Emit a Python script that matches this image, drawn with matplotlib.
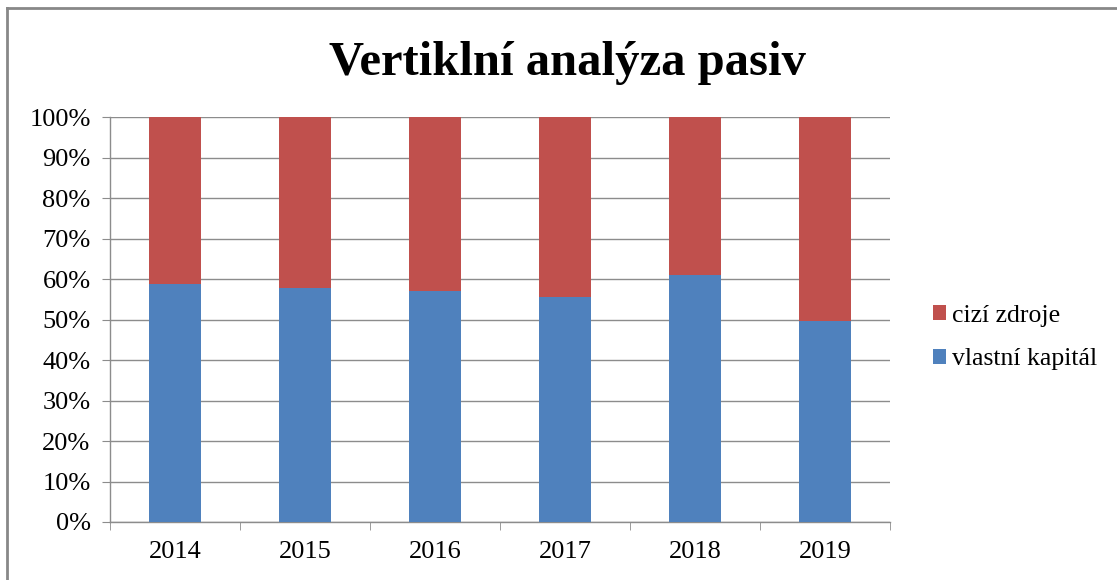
import matplotlib.pyplot as plt
from matplotlib.lines import Line2D

years = ['2014', '2015', '2016', '2017', '2018', '2019']
vlastni_kapital = [58.8, 57.8, 57.1, 55.6, 60.9, 49.6]
cizi_zdroje = [41.2, 42.2, 42.9, 44.4, 39.1, 50.4]
y_ticks = [0, 10, 20, 30, 40, 50, 60, 70, 80, 90, 100]
y_labels = ['{}%'.format(t) for t in y_ticks]

blue = '#4F81BD'
red = '#C0504D'
grid_col = '#8C8C8C'

plt.rcParams['font.family'] = ['Liberation Serif', 'DejaVu Serif']

fig = plt.figure(figsize=(11.17, 5.8), dpi=100)
ax = fig.add_axes([0.0985, 0.1, 0.6985, 0.698])

x = list(range(len(years)))
ax.bar(x, vlastni_kapital, width=0.4, color=blue, label='vlastní kapitál', zorder=3)
ax.bar(x, cizi_zdroje, width=0.4, bottom=vlastni_kapital, color=red,
       label='cizí zdroje', zorder=3)

ax.set_xlim(-0.5, len(years) - 0.5)
ax.set_ylim(0, 100)
ax.set_yticks(y_ticks)
ax.set_yticklabels(y_labels, fontsize=19)
ax.set_xticks(x)
ax.set_xticklabels(years, fontsize=19)
ax.set_xticks([i - 0.5 for i in range(len(years) + 1)], minor=True)
ax.tick_params(axis='x', which='major', length=0, pad=14)
ax.tick_params(axis='x', which='minor', length=6, color=grid_col, direction='out')
ax.tick_params(axis='y', length=6, color=grid_col, pad=8)

ax.yaxis.grid(True, color=grid_col, linewidth=1)
ax.set_axisbelow(True)
for s in ['top', 'right']:
    ax.spines[s].set_visible(False)
for s in ['left', 'bottom']:
    ax.spines[s].set_color(grid_col)
    ax.spines[s].set_linewidth(1)

fig.text(0.508, 0.871, 'Vertiklní analýza pasiv', ha='center', va='baseline',
         fontsize=35, fontweight='bold')

handles, labels = ax.get_legend_handles_labels()
fig.legend(handles[::-1], labels[::-1], loc='center left',
           bbox_to_anchor=(0.835, 0.418), frameon=False, fontsize=18.5,
           handlelength=0.5, handleheight=0.5, handletextpad=0.25,
           labelspacing=0.85, borderaxespad=0, borderpad=0)

# chart border
fig.add_artist(Line2D([0.0063, 1.0], [0.986, 0.986], color='#888888', linewidth=2))
fig.add_artist(Line2D([0.0063, 0.0063], [0.0, 0.986], color='#888888', linewidth=2))

fig.savefig('out.png', dpi=100)
